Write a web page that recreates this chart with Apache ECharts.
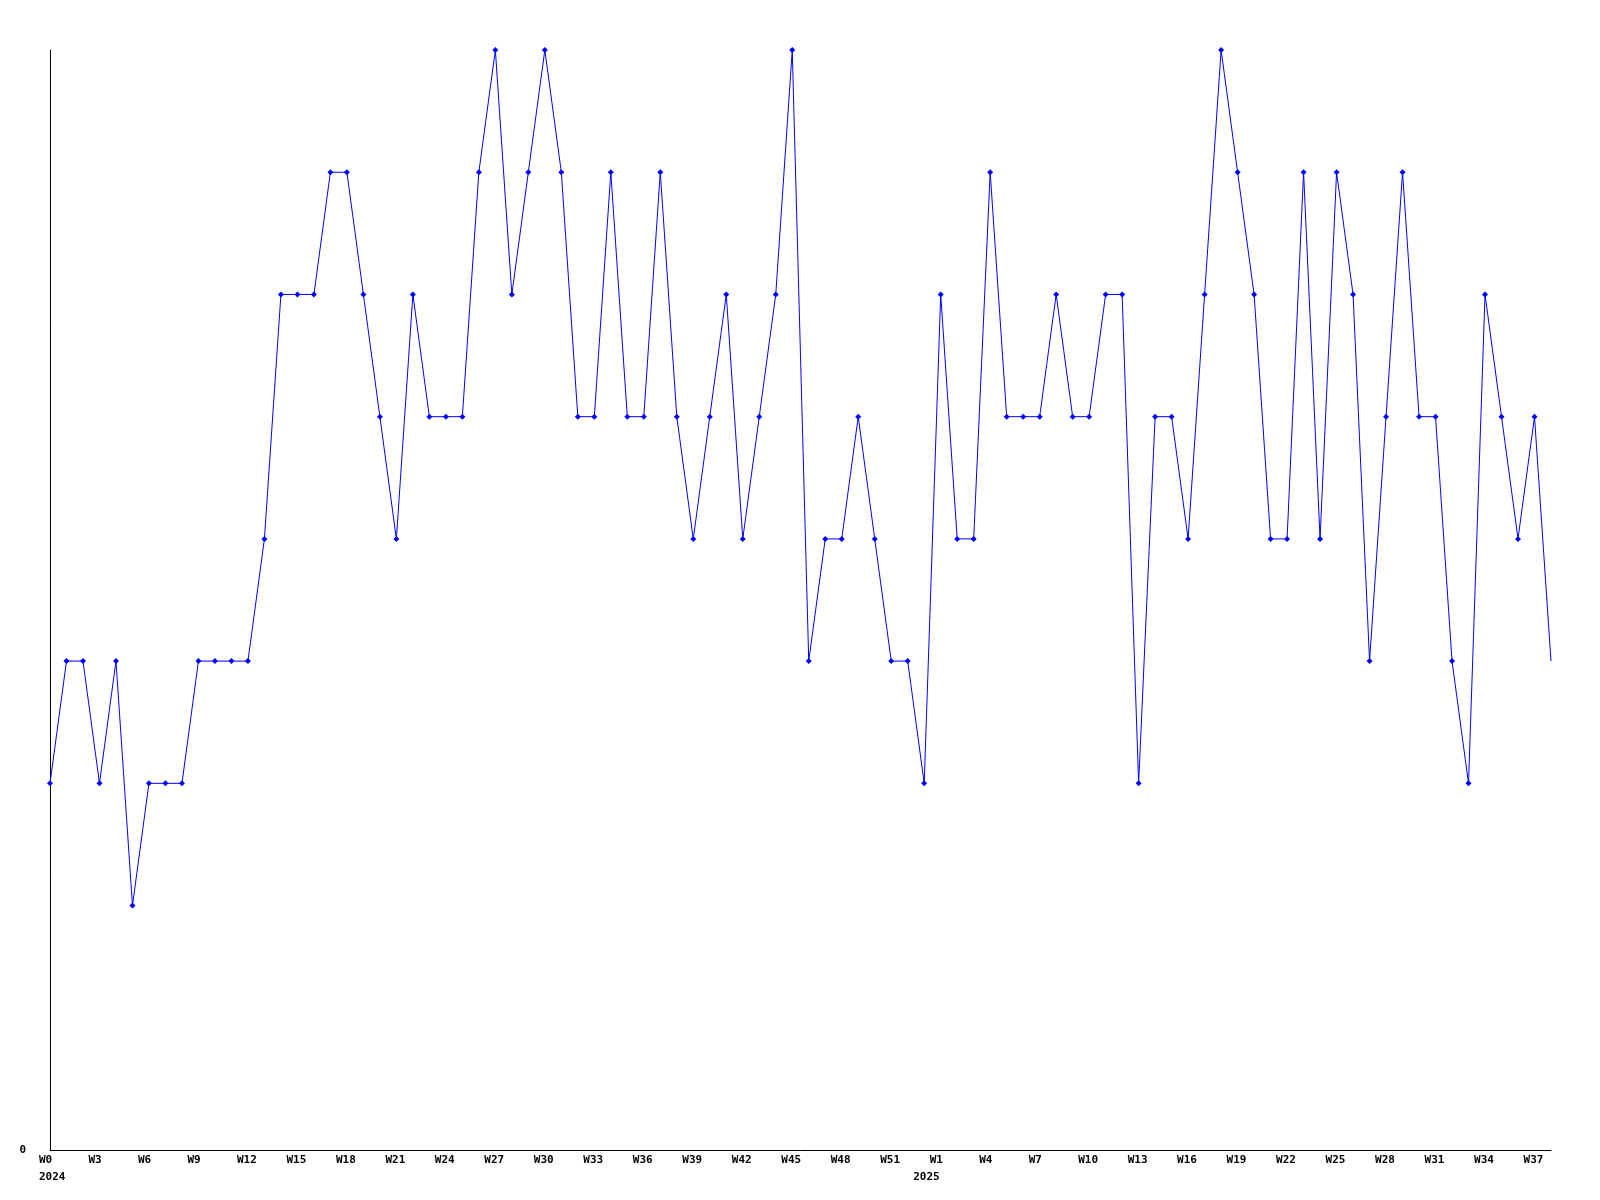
<!DOCTYPE html>
<html>
<head>
<meta charset="utf-8">
<script src="https://cdn.jsdelivr.net/npm/echarts@6/dist/echarts.min.js"></script>
<style>
	html, body { margin: 0; padding: 0; background: #fff; }
	#box { width: 1600px; height: 1200px; }
</style>
</head>
<body>
<div id="box"></div>
<script>
	// weekly counts, 2024 W0..W52 and 2025 W0..W38
	var values2024 = [3, 4, 4, 3, 4, 2, 3, 3, 3, 4, 4, 4, 4, 5, 7, 7, 7, 8, 8, 7, 6, 5, 7, 6, 6, 6, 8, 9, 7, 8, 9, 8, 6, 6, 8, 6, 6, 8, 6, 5, 6, 7, 5, 6, 7, 9, 4, 5, 5, 6, 5, 4, 4];
	var values2025 = [3, 7, 5, 5, 8, 6, 6, 6, 7, 6, 6, 7, 7, 3, 6, 6, 5, 7, 9, 8, 7, 5, 5, 8, 5, 8, 7, 4, 6, 8, 6, 6, 4, 3, 7, 6, 5, 6, 4];
	var years = ['2024', '2025'];
	var yTicks = [0];

	var weeks = [];
	var yearOf = [];
	values2024.forEach(function (v, i) { weeks.push('W' + i); yearOf.push(years[0]); });
	values2025.forEach(function (v, i) { weeks.push('W' + i); yearOf.push(years[1]); });
	var values = values2024.concat(values2025);

	var font = { fontFamily: 'DejaVu Sans Mono', fontWeight: 'bold', fontSize: 11, color: '#000' };

	var myChart = echarts.init(document.getElementById('box'));
	var option = {
		backgroundColor: '#fff',
		animation: false,
		grid: { left: 50, right: 49, top: 50, bottom: 50 },
		xAxis: [
			{
				type: 'category',
				data: weeks,
				boundaryGap: false,
				axisLine: { lineStyle: { color: '#000', width: 1 } },
				axisTick: { show: false },
				splitLine: { show: false },
				axisLabel: Object.assign({}, font, {
					interval: 2,
					margin: 5,
					formatter: function (v) { return '{w|' + v + '}'; },
					rich: { w: Object.assign({}, font, { width: 22, align: 'left' }) }
				})
			},
			{
				type: 'category',
				data: yearOf,
				position: 'bottom',
				offset: 17,
				boundaryGap: false,
				axisLine: { show: false },
				axisTick: { show: false },
				splitLine: { show: false },
				axisLabel: Object.assign({}, font, {
					margin: 5,
					interval: function (i) { return i === 0 || yearOf[i] !== yearOf[i - 1]; },
					formatter: function (v) { return '{w|' + v + '}'; },
					rich: { w: Object.assign({}, font, { width: 22, align: 'left' }) }
				})
			}
		],
		yAxis: {
			type: 'value',
			min: 0,
			max: 9,
			interval: 9,
			axisLine: { show: true, lineStyle: { color: '#000', width: 1 } },
			axisTick: { show: false },
			splitLine: { show: false },
			axisLabel: Object.assign({}, font, {
				margin: 24,
				formatter: function (v) { return yTicks.indexOf(v) >= 0 ? String(v) : ''; }
			})
		},
		series: [{
			type: 'line',
			xAxisIndex: 0,
			data: values.map(function (v, i) {
				return i === values.length - 1 ? { value: v, symbol: 'none' } : v;
			}),
			symbol: 'diamond',
			symbolSize: 6,
			showAllSymbol: true,
			lineStyle: { color: '#0000ff', width: 1 },
			itemStyle: { color: '#0000ff' }
		}]
	};
	myChart.setOption(option);
</script>
</body>
</html>
